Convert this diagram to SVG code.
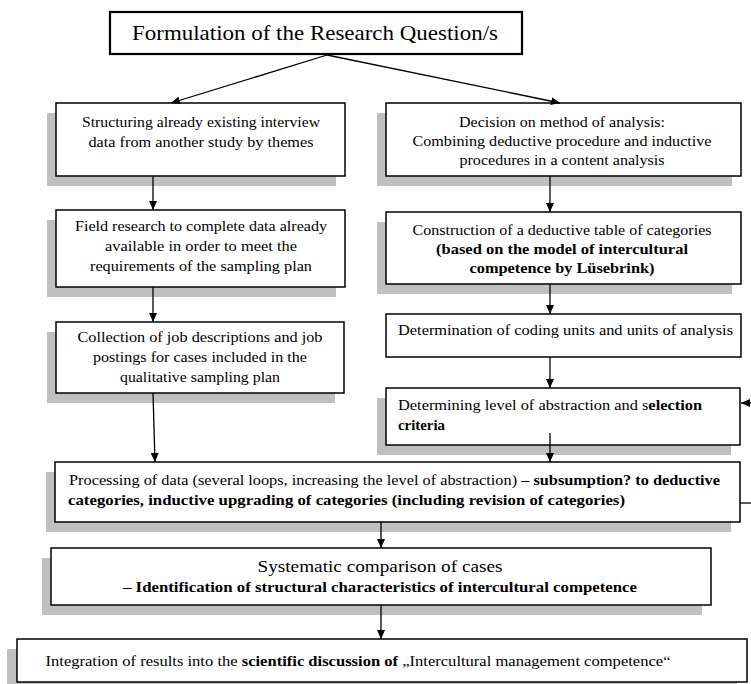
<svg xmlns="http://www.w3.org/2000/svg" width="751" height="684" viewBox="0 0 751 684" font-family="Liberation Serif, Times New Roman, serif">
  <defs>
    <marker id="arrow" markerUnits="userSpaceOnUse" markerWidth="9" markerHeight="8" refX="9" refY="4" orient="auto">
      <path d="M0,0 L9,4 L0,8 z" fill="#000"/>
    </marker>
  </defs>
  <style>
    .box { fill: #fff; stroke: #000; stroke-width: 1.5; }
    .title { fill: #fff; stroke: #000; stroke-width: 2.2; }
    .shadow { fill: #c0c0c0; stroke: none; }
    .t { font-size: 15px; fill: #000; }
    .c { text-anchor: middle; }
    .b { font-weight: bold; }
    .big { font-size: 21px; }
    .mid { font-size: 16px; }
    .conn { stroke: #000; stroke-width: 1.3; fill: none; }
  </style>
  <rect width="751" height="684" fill="#fff"/>

  <!-- top: research question -->
  <g id="question">
    <rect class="title" x="110" y="12" width="412" height="42"/>
    <text class="t big c" x="315" y="40" textLength="366" lengthAdjust="spacingAndGlyphs">Formulation of the Research Question/s</text>
  </g>

  <!-- left column -->
  <g id="structuring">
    <rect class="shadow" x="47" y="113" width="289" height="73"/>
    <rect class="box" x="56" y="103" width="289" height="73"/>
    <text class="t c" x="201" y="127" textLength="238" lengthAdjust="spacingAndGlyphs">Structuring already existing interview</text>
    <text class="t c" x="201" y="147" textLength="225" lengthAdjust="spacingAndGlyphs">data from another study by themes</text>
  </g>
  <g id="field-research">
    <rect class="shadow" x="47" y="220" width="289" height="77"/>
    <rect class="box" x="56" y="210" width="289" height="77"/>
    <text class="t c" x="201" y="231" textLength="252" lengthAdjust="spacingAndGlyphs">Field research to complete data already</text>
    <text class="t c" x="201" y="251" textLength="192" lengthAdjust="spacingAndGlyphs">available in order to meet the</text>
    <text class="t c" x="201" y="271" textLength="222" lengthAdjust="spacingAndGlyphs">requirements of the sampling plan</text>
  </g>
  <g id="job-descriptions">
    <rect class="shadow" x="47" y="332" width="288" height="71"/>
    <rect class="box" x="56" y="322" width="288" height="71"/>
    <text class="t c" x="200" y="342" textLength="245" lengthAdjust="spacingAndGlyphs">Collection of job descriptions and job</text>
    <text class="t c" x="200" y="362" textLength="214" lengthAdjust="spacingAndGlyphs">postings for cases included in the</text>
    <text class="t c" x="200" y="382" textLength="160" lengthAdjust="spacingAndGlyphs">qualitative sampling plan</text>
  </g>

  <!-- right column -->
  <g id="method-decision">
    <rect class="shadow" x="377" y="113" width="355" height="73"/>
    <rect class="box" x="386" y="103" width="355" height="73"/>
    <text class="t c" x="562" y="127" textLength="206" lengthAdjust="spacingAndGlyphs">Decision on method of analysis:</text>
    <text class="t c" x="562" y="146" textLength="299" lengthAdjust="spacingAndGlyphs">Combining deductive procedure and inductive</text>
    <text class="t c" x="562" y="165" textLength="205" lengthAdjust="spacingAndGlyphs">procedures in a content analysis</text>
  </g>
  <g id="category-table">
    <rect class="shadow" x="377" y="222" width="355" height="72"/>
    <rect class="box" x="386" y="212" width="355" height="72"/>
    <text class="t c" x="562" y="235" textLength="299" lengthAdjust="spacingAndGlyphs">Construction of a deductive table of categories</text>
    <text class="t c b" x="562" y="254" textLength="252" lengthAdjust="spacingAndGlyphs">(based on the model of intercultural</text>
    <text class="t c b" x="562" y="273" textLength="185" lengthAdjust="spacingAndGlyphs">competence by Lüsebrink)</text>
  </g>
  <g id="coding-units">
    <rect class="box" x="386" y="314" width="355" height="43"/>
    <text class="t" x="398" y="335" textLength="335" lengthAdjust="spacingAndGlyphs">Determination of coding units and units of analysis</text>
  </g>
  <g id="abstraction-level">
    <rect class="shadow" x="377" y="398" width="354" height="57"/>
    <rect class="box" x="386" y="388" width="354" height="57"/>
    <text class="t" x="398" y="410" textLength="304" lengthAdjust="spacingAndGlyphs">Determining level of abstraction and s<tspan class="b">election</tspan></text>
    <text class="t b" x="398" y="430" textLength="47" lengthAdjust="spacingAndGlyphs">criteria</text>
  </g>

  <!-- bottom row -->
  <g id="processing">
    <rect class="shadow" x="46" y="472" width="685" height="60"/>
    <rect class="box" x="55" y="462" width="685" height="60"/>
    <text class="t" x="69" y="485" textLength="651" lengthAdjust="spacingAndGlyphs">Processing of data (several loops, increasing the level of abstraction) <tspan class="b">– subsumption? to deductive</tspan></text>
    <text class="t b" x="68" y="505" textLength="557" lengthAdjust="spacingAndGlyphs">categories, inductive upgrading of categories (including revision of categories)</text>
  </g>
  <g id="comparison">
    <rect class="shadow" x="42" y="558" width="660" height="57"/>
    <rect class="box" x="51" y="548" width="660" height="57"/>
    <text class="t mid c" x="380" y="572" textLength="245" lengthAdjust="spacingAndGlyphs">Systematic comparison of cases</text>
    <text class="t c b" x="380" y="592" textLength="514" lengthAdjust="spacingAndGlyphs">– Identification of structural characteristics of intercultural competence</text>
  </g>
  <g id="integration">
    <rect class="shadow" x="7" y="649" width="730" height="43"/>
    <rect class="box" x="17" y="639" width="730" height="43"/>
    <text class="t c" x="358" y="666" textLength="625" lengthAdjust="spacingAndGlyphs">Integration of results into the <tspan class="b">scientific discussion of</tspan> „Intercultural management competence“</text>
  </g>

  <!-- connectors -->
  <g id="connectors">
    <line class="conn" x1="327" y1="55" x2="171" y2="103" marker-end="url(#arrow)"/>
    <line class="conn" x1="327" y1="55" x2="560" y2="103" marker-end="url(#arrow)"/>
    <line class="conn" x1="153" y1="176" x2="153" y2="210" marker-end="url(#arrow)"/>
    <line class="conn" x1="153" y1="287" x2="153" y2="322" marker-end="url(#arrow)"/>
    <line class="conn" x1="153" y1="393" x2="155" y2="462" marker-end="url(#arrow)"/>
    <line class="conn" x1="550" y1="176" x2="550" y2="212" marker-end="url(#arrow)"/>
    <line class="conn" x1="550" y1="284" x2="550" y2="314" marker-end="url(#arrow)"/>
    <line class="conn" x1="550" y1="357" x2="550" y2="388" marker-end="url(#arrow)"/>
    <line class="conn" x1="550" y1="433" x2="550" y2="462" marker-end="url(#arrow)"/>
    <line class="conn" x1="381" y1="522" x2="381" y2="548" marker-end="url(#arrow)"/>
    <line class="conn" x1="381" y1="605" x2="381" y2="639" marker-end="url(#arrow)"/>
    <!-- feedback loop leaving and re-entering at the right edge -->
    <line class="conn" x1="740" y1="503" x2="751" y2="503"/>
    <line class="conn" x1="751" y1="403" x2="741" y2="403" marker-end="url(#arrow)"/>
  </g>
</svg>
